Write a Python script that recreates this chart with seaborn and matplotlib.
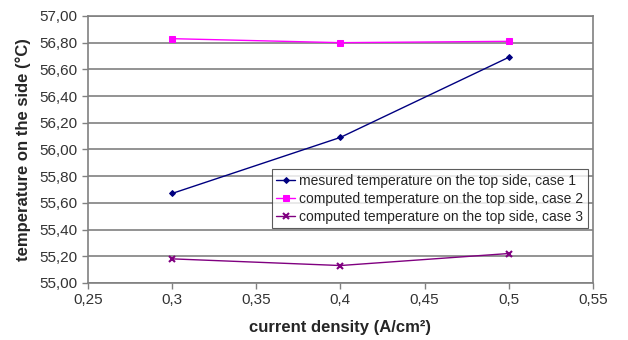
import pandas as pd
import seaborn as sns
import matplotlib.pyplot as plt
from matplotlib.ticker import FuncFormatter, MultipleLocator


CURRENT_DENSITY = [0.3, 0.4, 0.5]
MEASURED_CASE1 = [55.67, 56.09, 56.69]
COMPUTED_CASE2 = [56.83, 56.80, 56.81]
COMPUTED_CASE3 = [55.18, 55.13, 55.22]

LABEL_CASE1 = "mesured temperature on the top side, case 1"
LABEL_CASE2 = "computed temperature on the top side, case 2"
LABEL_CASE3 = "computed temperature on the top side, case 3"

OUTPUT_PATH = "out.png"


def build_frame():
    rows = []
    for label, values in [
        (LABEL_CASE1, MEASURED_CASE1),
        (LABEL_CASE2, COMPUTED_CASE2),
        (LABEL_CASE3, COMPUTED_CASE3),
    ]:
        for x, y in zip(CURRENT_DENSITY, values):
            rows.append({"current": x, "temperature": y, "series": label})
    return pd.DataFrame(rows)


def main():
    sns.set_theme(style="white")
    plt.rcParams["font.family"] = ["Liberation Sans", "DejaVu Sans"]

    df = build_frame()

    fig, ax = plt.subplots(figsize=(6.28, 3.40), dpi=100)
    fig.subplots_adjust(left=0.140, right=0.944, top=0.953, bottom=0.168)

    # seaborn puts a white edge on markers by default - override so the
    # small Excel-style markers keep their colour
    styles = {
        LABEL_CASE1: dict(color="#000080", marker="D", markersize=3),
        LABEL_CASE2: dict(color="#ff00ff", marker="s", markersize=4),
        LABEL_CASE3: dict(color="#800080", marker="x", markersize=4, markeredgewidth=1.5),
    }
    for label, style in styles.items():
        sns.lineplot(
            data=df[df["series"] == label], x="current", y="temperature",
            label=label, linewidth=1, ax=ax,
            markeredgecolor=style["color"], **style,
        )

    ax.set_xlim(0.25, 0.55)
    ax.set_ylim(55.0, 57.0)
    ax.xaxis.set_major_locator(MultipleLocator(0.05))
    ax.yaxis.set_major_locator(MultipleLocator(0.2))
    ax.xaxis.set_major_formatter(FuncFormatter(lambda v, _: f"{v:g}".replace(".", ",")))
    ax.yaxis.set_major_formatter(FuncFormatter(lambda v, _: f"{v:.2f}".replace(".", ",")))

    ax.yaxis.grid(True, color="#808080", linewidth=1.2)
    ax.xaxis.grid(False)
    for spine in ax.spines.values():
        spine.set_color("#808080")
        spine.set_linewidth(1.2)

    ax.tick_params(axis="both", which="major", direction="out", length=4,
                   width=1, color="#808080", labelsize=11, labelcolor="#333333",
                   left=True, bottom=True)

    ax.set_xlabel("current density (A/cm²)", fontsize=12, fontweight="bold", labelpad=9)
    ax.set_ylabel("temperature on the side (°C)", fontsize=12, fontweight="bold", labelpad=6)

    legend = ax.legend(loc="upper right", bbox_to_anchor=(0.99, 0.425), fontsize=10,
                       frameon=True, fancybox=False, borderpad=0.3, labelspacing=0.3,
                       handlelength=1.4, handletextpad=0.3, borderaxespad=0)
    legend.get_frame().set_edgecolor("#333333")
    legend.get_frame().set_linewidth(0.8)

    fig.savefig(OUTPUT_PATH, dpi=100)
    plt.close(fig)


if __name__ == "__main__":
    main()
